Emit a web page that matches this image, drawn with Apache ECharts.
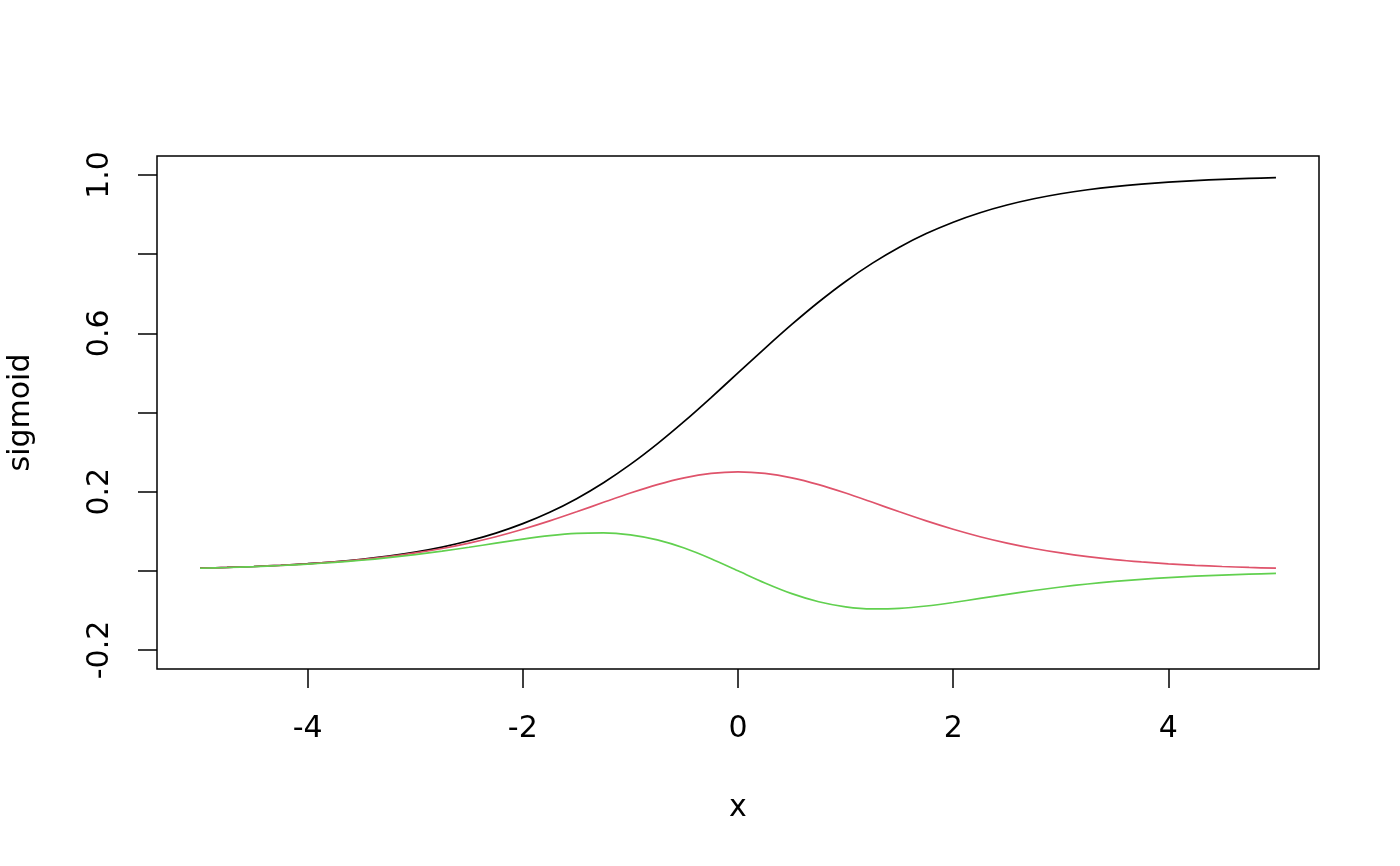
<!DOCTYPE html>
<html>
<head>
<meta charset="utf-8">
<script src="https://cdn.jsdelivr.net/npm/echarts@6/dist/echarts.min.js"></script>
<style>html,body{margin:0;padding:0;background:#fff;}#c{width:1400px;height:866px;}</style>
</head>
<body>
<div id="c"></div>
<script>
const xValues = [-5,-4.75,-4.5,-4.25,-4,-3.75,-3.5,-3.25,-3,-2.75,-2.5,-2.25,-2,-1.75,-1.5,-1.25,-1,-0.75,-0.5,-0.25,0,0.25,0.5,0.75,1,1.25,1.5,1.75,2,2.25,2.5,2.75,3,3.25,3.5,3.75,4,4.25,4.5,4.75,5];
const sigmoidValues = [0.0067,0.0086,0.0110,0.0141,0.0180,0.0230,0.0293,0.0373,0.0474,0.0601,0.0759,0.0953,0.1192,0.1480,0.1824,0.2227,0.2689,0.3208,0.3775,0.4378,0.5,0.5622,0.6225,0.6792,0.7311,0.7773,0.8176,0.8520,0.8808,0.9047,0.9241,0.9399,0.9526,0.9627,0.9707,0.9770,0.9820,0.9859,0.9890,0.9914,0.9933];
const firstDerivValues = [0.0066,0.0085,0.0109,0.0139,0.0177,0.0225,0.0284,0.0359,0.0452,0.0565,0.0701,0.0862,0.1050,0.1261,0.1491,0.1731,0.1966,0.2179,0.2350,0.2461,0.25,0.2461,0.2350,0.2179,0.1966,0.1731,0.1491,0.1261,0.1050,0.0862,0.0701,0.0565,0.0452,0.0359,0.0284,0.0225,0.0177,0.0139,0.0109,0.0085,0.0066];
const secondDerivValues = [0.0065,0.0084,0.0107,0.0135,0.0171,0.0215,0.0267,0.0332,0.0409,0.0497,0.0595,0.0698,0.0800,0.0888,0.0947,0.0960,0.0909,0.0781,0.0576,0.0306,0,-0.0306,-0.0576,-0.0781,-0.0909,-0.0960,-0.0947,-0.0888,-0.0800,-0.0698,-0.0595,-0.0497,-0.0409,-0.0332,-0.0267,-0.0215,-0.0171,-0.0135,-0.0107,-0.0084,-0.0065];
const xTicks = [-4,-2,0,2,4];
const yTicks = [-0.2,0,0.2,0.4,0.6,0.8,1.0];
const yLabels = [-0.2,0.2,0.6,1.0];

function pairs(ys){ return xValues.map((x,i)=>[x, ys[i]]); }
const font = 'DejaVu Sans, Verdana, sans-serif';
const chart = echarts.init(document.getElementById('c'), null, {renderer:'canvas'});
chart.setOption({
  animation:false,
  backgroundColor:'#fff',
  grid:{left:157,right:81,top:156,bottom:197,show:true,borderColor:'#000',borderWidth:1.5,backgroundColor:'transparent',
    containLabel:false,outerBoundsMode:'none'},
  xAxis:{
    type:'value',min:-5.4,max:5.4,position:'bottom',
    name:'x',nameLocation:'middle',nameGap:124,
    nameTextStyle:{fontFamily:font,fontSize:30,color:'#000'},
    axisLine:{show:false,onZero:false},
    splitLine:{show:false},
    axisTick:{show:true,inside:false,length:19,lineStyle:{color:'#000',width:1.5},customValues:xTicks},
    axisLabel:{customValues:xTicks,margin:45,fontFamily:font,fontSize:30,color:'#000'}
  },
  yAxis:{
    type:'value',min:-0.248,max:1.048,position:'left',
    name:'sigmoid',nameLocation:'middle',nameGap:121,nameRotate:90,
    nameTextStyle:{fontFamily:font,fontSize:30,color:'#000'},
    axisLine:{show:false,onZero:false},
    splitLine:{show:false},
    axisTick:{show:true,inside:false,length:19,lineStyle:{color:'#000',width:1.5},customValues:yTicks},
    axisLabel:{customValues:yLabels,rotate:90,margin:42,fontFamily:font,fontSize:30,color:'#000',
      formatter:v=>v.toFixed(1)}
  },
  series:[
    {type:'line',data:pairs(sigmoidValues),showSymbol:false,smooth:0.3,lineStyle:{color:'#000000',width:1.7},itemStyle:{color:'#000'}},
    {type:'line',data:pairs(firstDerivValues),showSymbol:false,smooth:0.3,lineStyle:{color:'#DF536B',width:1.7},itemStyle:{color:'#DF536B'}},
    {type:'line',data:pairs(secondDerivValues),showSymbol:false,smooth:0.3,lineStyle:{color:'#61D04F',width:1.7},itemStyle:{color:'#61D04F'}}
  ]
});
</script>
</body>
</html>
